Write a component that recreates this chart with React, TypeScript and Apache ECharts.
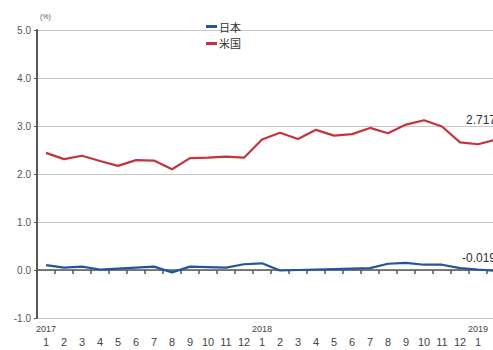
import React, { useEffect, useRef } from "react";
import * as echarts from "echarts";

const months: string[] = [
  "2017-1","2017-2","2017-3","2017-4","2017-5","2017-6","2017-7","2017-8","2017-9","2017-10","2017-11","2017-12",
  "2018-1","2018-2","2018-3","2018-4","2018-5","2018-6","2018-7","2018-8","2018-9","2018-10","2018-11","2018-12",
  "2019-1","2019-2",
];
const japan: number[] = [
  0.10, 0.05, 0.07, 0.01, 0.03, 0.05, 0.07, -0.05, 0.07, 0.06, 0.05, 0.12,
  0.14, -0.01, 0.0, 0.01, 0.02, 0.03, 0.04, 0.13, 0.15, 0.11, 0.11, 0.04,
  0.01, -0.019,
];
const usa: number[] = [
  2.44, 2.31, 2.38, 2.27, 2.17, 2.29, 2.28, 2.10, 2.33, 2.34, 2.36, 2.34,
  2.72, 2.86, 2.73, 2.92, 2.80, 2.83, 2.96, 2.85, 3.03, 3.12, 2.99, 2.66,
  2.62, 2.717,
];
const seriesNames = ["日本", "米国"];
const unitLabel = "(%)";

const FONT = "'Liberation Sans', Arial, sans-serif";

export default function App() {
  const ref = useRef<HTMLDivElement>(null);
  useEffect(() => {
    if (!ref.current) return;
    const chart = echarts.init(ref.current, undefined, { renderer: "svg" });
    const lastIdx = months.length - 1;
    const withEndLabel = (arr: number[], offset: number[]) =>
      arr.map((v, i) =>
        i === lastIdx
          ? {
              value: v,
              label: {
                show: true,
                position: "top",
                distance: 5,
                offset,
                formatter: String(v),
                color: "#333",
                fontSize: 12,
                fontFamily: FONT,
              },
            }
          : v
      );
    chart.setOption({
      animation: false,
      backgroundColor: "#ffffff",
      textStyle: { fontFamily: FONT },
      grid: { left: 37, right: 0, top: 30, bottom: 32, containLabel: false },
      legend: {
        orient: "vertical",
        left: 201,
        top: 16,
        itemWidth: 11,
        itemHeight: 3,
        itemGap: 6,
        icon: "rect",
        textStyle: { fontSize: 11, color: "#333", fontFamily: "'Noto Sans CJK JP', sans-serif", padding: [0, 0, 0, -3] },
        data: seriesNames,
      },
      graphic: [
        {
          type: "text",
          left: 40,
          top: 13,
          style: { text: unitLabel, fontSize: 7, fill: "#555", fontFamily: FONT },
        },
      ],
      xAxis: {
        type: "category",
        data: months,
        boundaryGap: true,
        axisLine: { lineStyle: { color: "#555", width: 1.5 } },
        axisTick: { show: true, alignWithLabel: false, length: 4, lineStyle: { color: "#555", width: 1.5 } },
        axisLabel: {
          interval: 0,
          margin: 5,
          formatter: (v: string) => {
            const [y, m] = v.split("-");
            return m === "1" ? `{y|${y}}\n{m|${m}}` : `{y| }\n{m|${m}}`;
          },
          rich: {
            y: { fontSize: 9, color: "#444", fontFamily: FONT, lineHeight: 12 },
            m: { fontSize: 11, color: "#444", fontFamily: FONT, lineHeight: 14 },
          },
        },
        splitLine: { show: false },
      },
      yAxis: {
        type: "value",
        min: -1,
        max: 5,
        interval: 1,
        axisLine: { show: true, lineStyle: { color: "#555", width: 2 } },
        axisTick: { show: true, length: 3, lineStyle: { color: "#555" } },
        axisLabel: {
          formatter: (v: number) => v.toFixed(1),
          fontSize: 10,
          color: "#555",
          margin: 6,
          fontFamily: FONT,
        },
        splitLine: { show: true, lineStyle: { color: "#c8c8c8", width: 1 } },
      },
      series: [
        {
          name: seriesNames[0],
          type: "line",
          data: withEndLabel(japan, [-17, -2]),
          symbol: "circle",
          symbolSize: 0,
          showSymbol: true,
          color: "#22559a",
          lineStyle: { width: 2.2, color: "#22559a" },
          z: 3,
        },
        {
          name: seriesNames[1],
          type: "line",
          data: withEndLabel(usa, [-15, -9]),
          symbol: "circle",
          symbolSize: 0,
          showSymbol: true,
          color: "#c4343f",
          lineStyle: { width: 2.2, color: "#c4343f" },
          z: 3,
        },
      ],
    });
    return () => chart.dispose();
  }, []);
  return (
    <div style={{ position: "fixed", left: 0, top: 0, width: 493, height: 350, overflow: "hidden", background: "#fff" }}>
      <div ref={ref} style={{ width: 505, height: 350 }} />
    </div>
  );
}
